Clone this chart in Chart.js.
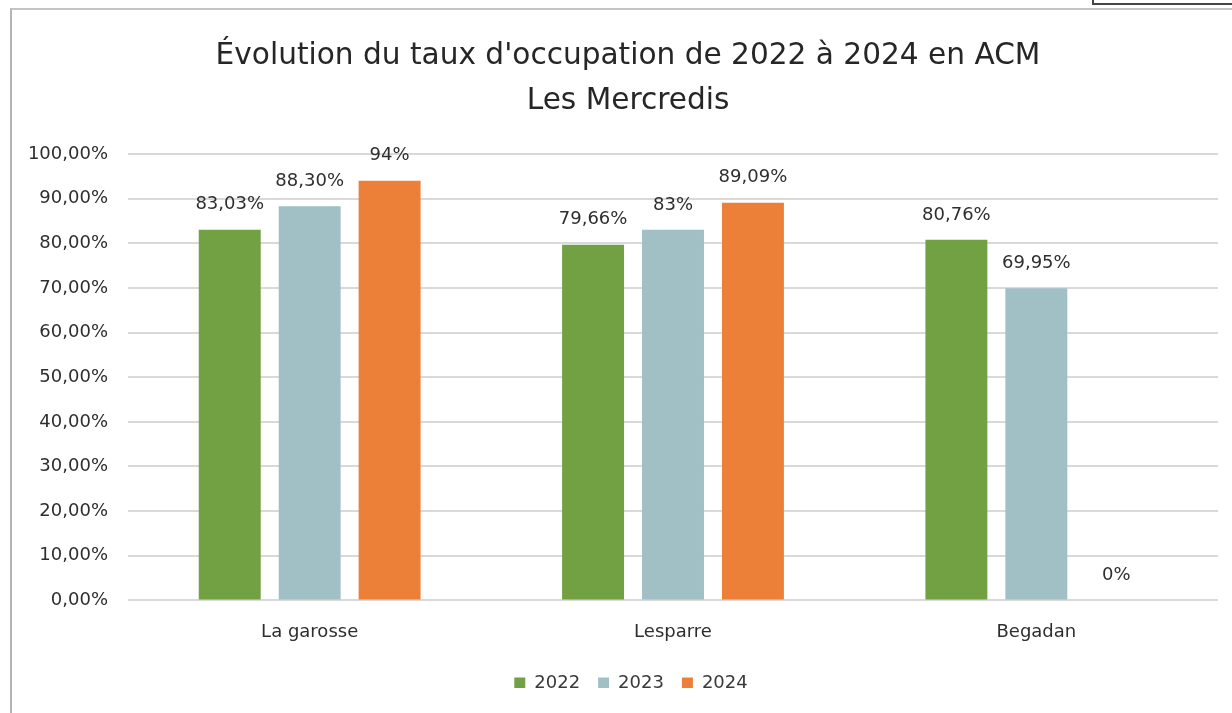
<!DOCTYPE html>
<html>
<head>
<meta charset="utf-8">
<script src="https://cdn.jsdelivr.net/npm/chart.js@4"></script>
<style>
    body { margin: 0; background: #fff; }
    #frame { position: absolute; left: 10px; top: 8px; width: 1240px; height: 720px; border-left: 2px solid #b4b4b4; border-top: 2px solid #c4c4c4; }
    #tab { position: absolute; left: 1092px; top: -10px; width: 150px; height: 11px; border: 2px solid #444; }
    #wrap { position: absolute; left: 0; top: 0; width: 1232px; height: 713px; }
</style>
</head>
<body>
<div id="frame"></div>
<div id="tab"></div>
<div id="wrap"><canvas id="occupation-chart"></canvas></div>
<script>
const categories = ['La garosse', 'Lesparre', 'Begadan'];
const years = ['2022', '2023', '2024'];
const values2022 = [83.03, 79.66, 80.76];
const values2023 = [88.30, 83, 69.95];
const values2024 = [94, 89.09, 0];
const labels2022 = ['83,03%', '79,66%', '80,76%'];
const labels2023 = ['88,30%', '83%', '69,95%'];
const labels2024 = ['94%', '89,09%', '0%'];
const colors = ['#71a143', '#a0c0c6', '#ec8038'];

const FONT = "'DejaVu Sans', sans-serif";

// draws the value text above each bar
const valueLabels = {
    id: 'valueLabels',
    afterDatasetsDraw(chart) {
        const ctx = chart.ctx;
        ctx.save();
        ctx.font = '18px ' + FONT;
        ctx.fillStyle = '#2e2e2e';
        ctx.textAlign = 'center';
        ctx.textBaseline = 'middle';
        chart.data.datasets.forEach((ds, i) => {
            chart.getDatasetMeta(i).data.forEach((bar, j) => {
                ctx.fillText(ds.valueText[j], bar.x, bar.y - 25);
            });
        });
        ctx.restore();
    }
};

// title and legend sit a bit right of the canvas centre in the original,
// and the legend is less tall than its item spacing would make it
const boxTweaks = {
    id: 'boxTweaks',
    beforeLayout(chart) {
        const legend = chart.legend;
        if (legend && !legend._shortFit) {
            const fit = legend.fit;
            legend.fit = function () {
                fit.call(this);
                this.height -= 14;
            };
            legend._shortFit = true;
        }
    },
    afterLayout(chart) {
        chart.legend.left += 22;
        chart.legend.right += 22;
        chart.titleBlock.left += 19;
        chart.titleBlock.right += 19;
    }
};

const seriesValues = [values2022, values2023, values2024];
const seriesLabels = [labels2022, labels2023, labels2024];

new Chart(document.getElementById('occupation-chart'), {
    type: 'bar',
    data: {
        labels: categories,
        datasets: years.map((year, i) => ({
            label: year,
            data: seriesValues[i],
            valueText: seriesLabels[i],
            backgroundColor: colors[i],
            categoryPercentage: 0.66,
            barPercentage: 0.775
        }))
    },
    options: {
        responsive: true,
        maintainAspectRatio: false,
        animation: false,
        layout: { padding: { left: 0, right: 14, top: 0, bottom: 25 } },
        plugins: {
            title: {
                display: true,
                text: ["Évolution du taux d'occupation de 2022 à 2024 en ACM", 'Les Mercredis'],
                color: '#262626',
                font: { family: FONT, size: 29.6, weight: 'normal', lineHeight: 1.52 },
                padding: { top: 34, bottom: 30 }
            },
            legend: {
                position: 'bottom',
                labels: {
                    color: '#3a3a3a',
                    font: { family: FONT, size: 18 },
                    boxWidth: 11,
                    boxHeight: 11,
                    padding: 18
                }
            },
            tooltip: { enabled: false }
        },
        scales: {
            x: {
                grid: { display: false },
                border: { display: false },
                ticks: { color: '#2e2e2e', font: { family: FONT, size: 18 }, padding: 13 }
            },
            y: {
                min: 0,
                max: 100,
                afterFit: scale => { scale.width = 128; },
                grid: { color: '#d9d9d9', lineWidth: 2, drawTicks: false },
                border: { display: false },
                ticks: {
                    stepSize: 10,
                    padding: 20,
                    color: '#2e2e2e',
                    font: { family: FONT, size: 18 },
                    callback: v => v.toFixed(2).replace('.', ',') + '%'
                }
            }
        }
    },
    plugins: [valueLabels, boxTweaks]
});
</script>
</body>
</html>
